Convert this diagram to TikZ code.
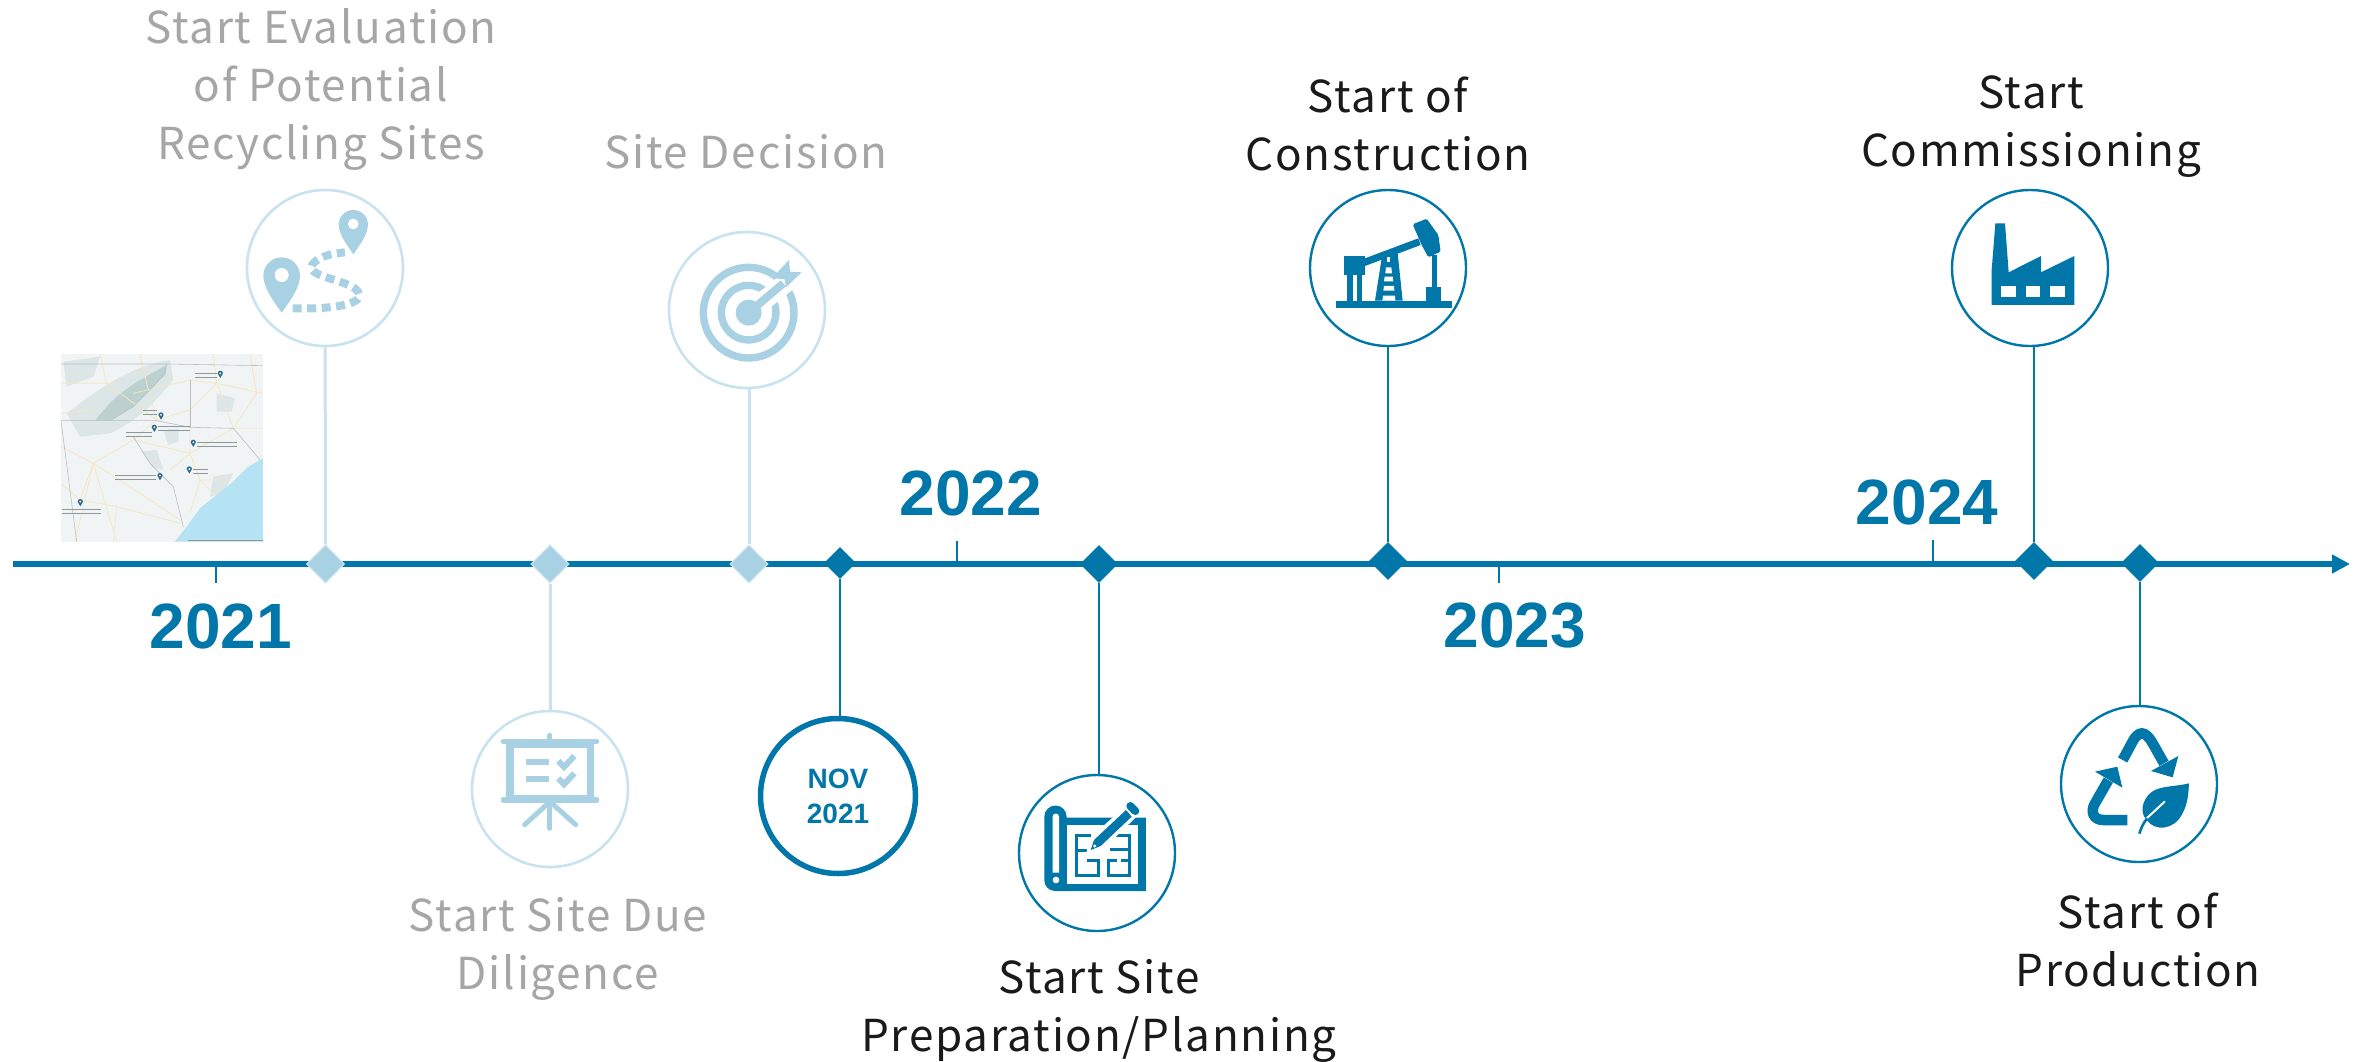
\documentclass[tikz,border=0pt]{standalone}
\usepackage{fontspec}
\usetikzlibrary{shapes.geometric,arrows.meta}
\newfontfamily\labfont[LetterSpace=4]{Noto Sans CJK JP}
\newfontfamily\yearfont[Scale=1]{Liberation Sans}
\definecolor{dk}{HTML}{0077A8}
\definecolor{lt}{HTML}{A9D1E4}
\definecolor{ltc}{HTML}{C9E2EF}
\definecolor{gy}{HTML}{A6A6A6}
\definecolor{bk}{HTML}{1A1A1A}
\definecolor{road}{HTML}{F3E7C4}
\definecolor{land}{HTML}{F1F4F5}
\definecolor{sea}{HTML}{B5E3F4}
\definecolor{mtn}{HTML}{AFC8C6}
\definecolor{mtnl}{HTML}{DCE6E6}
\definecolor{mbord}{HTML}{B9BFC2}
\definecolor{mtxt}{HTML}{8E979C}
\definecolor{mpin}{HTML}{2F6C8C}
\tikzset{
  ring/.style={circle,draw=dk,line width=2.4pt,minimum size=156pt,inner sep=0pt},
  ringl/.style={circle,draw=ltc,line width=2.6pt,minimum size=156pt,inner sep=0pt},
  dmd/.style={diamond,fill=dk,inner sep=0pt,minimum width=#1,minimum height=#1},
  dmdl/.style={diamond,fill=lt,draw=ltc,line width=1.2pt,inner sep=0pt,minimum width=#1,minimum height=#1},
  con/.style={draw=dk,line width=2.2pt},
  conl/.style={draw=ltc,line width=3pt},
  lab/.style={align=center,text=bk,font=\labfont\fontsize{44}{58}\selectfont},
  labg/.style={lab,text=gy},
  yr/.style={text=dk,font=\yearfont\bfseries\fontsize{64}{64}\selectfont},
  z/.style 2 args={shift={(#1,#2)},x=.3333pt,y=-.3333pt},
  maproad/.style={draw=road,line width=.8pt},
  mapline/.style={draw=mtxt,line width=.8pt},
  mapborder/.style={draw=mbord,line width=.6pt}
}
\begin{document}
\begin{tikzpicture}[x=1pt,y=-1pt]
\useasboundingbox (0,0) rectangle (2364,1061);
% axis
\coordinate (axS) at (13,564);
\coordinate (axE) at (2350,564);
\draw[dk,line width=5.5pt,-{Triangle[length=18pt,width=18pt]}] (axS) -- (axE);
% ticks
\foreach \n/\x/\a/\b in {ta/216/564/583,tb/957/541/564,tc/1499/564/583,td/1933/540/564}{
  \coordinate (\n1) at (\x,\a); \coordinate (\n2) at (\x,\b);
  \draw[con] (\n1) -- (\n2);
}
% diamonds
\node[dmdl=38pt] (d1) at (325.5,564) {};
\node[dmdl=38pt] (d2) at (550,564) {};
\node[dmdl=38pt] (d3) at (749,564) {};
\node[dmd=32pt] (d4) at (840,563) {};
\node[dmd=38pt] (d5) at (1099,564) {};
\node[dmd=38pt] (d6) at (1388,561) {};
\node[dmd=38pt] (d7) at (2034,561) {};
\node[dmd=38pt] (d8) at (2140,563) {};
% circles
\node[ringl] (c1) at (325,268) {};
\node[ringl] (c2) at (550,789) {};
\node[ringl] (c3) at (747,310) {};
\node[circle,draw=dk,line width=5.5pt,minimum size=155pt,inner sep=0pt,align=center,text=dk,font=\yearfont\bfseries\fontsize{28}{35}\selectfont] (c4) at (838,796) {NOV\\2021};
\node[ring] (c5) at (1097,853) {};
\node[ring] (c6) at (1388,268) {};
\node[ring] (c7) at (2030,268) {};
\node[ring] (c8) at (2139,784) {};
% connectors
\draw[conl] (c1) -- (d1);
\draw[conl] (d2) -- (c2);
\draw[conl] (d3.north) -- (d3.north |- c3.south);
\draw[con] (d4.south) -- (d4.south |- c4.north);
\draw[con] (d5.south) -- (d5.south |- c5.north);
\draw[con] (c6) -- (d6);
\draw[con] (d7.north) -- (d7.north |- c7.south);
\draw[con] (d8.south) -- (d8.south |- c8.north);
% map
\begin{scope}[z={0}{180}]
  \clip (183,522) rectangle (789,1085);
  \fill[land] (183,522) rectangle (789,1085);
  % terrain
  \fill[mtnl] (200,700) .. controls (280,640) and (380,560) .. (510,540) -- (520,600) .. controls (470,660) and (420,720) .. (330,760) -- (240,770) -- cycle;
  \fill[mtn,opacity=.7] (285,722) .. controls (320,680) and (340,650) .. (420,600) -- (500,555) -- (495,582) -- (440,640) -- (400,680) -- (330,722) -- cycle;
  \fill[mtnl] (190,545) -- (300,530) -- (280,590) -- (200,620) -- cycle;
  \fill[mtnl] (490,750) -- (535,745) -- (535,785) -- (505,795) -- cycle;
  \fill[mtnl] (425,815) -- (470,810) -- (490,870) -- (455,860) -- cycle;
  \fill[mtnl] (650,640) -- (705,655) -- (695,695) -- (650,695) -- cycle;
  \fill[mtnl] (640,890) -- (700,880) -- (670,940) -- (630,950) -- cycle;
  % roads
  \draw[maproad]
    (280,850) -- (183,800) (280,850) -- (240,960) (280,850) -- (400,780) (280,850) -- (225,1085)
    (280,850) -- (420,940) (280,850) -- (350,1085) (400,780) -- (470,720) (470,720) -- (570,690)
    (570,690) -- (650,610) (650,610) -- (789,640) (570,600) -- (650,610) (570,600) -- (400,640)
    (570,690) -- (570,820) (570,820) -- (400,780) (570,820) -- (600,900) (600,900) -- (570,1000)
    (570,820) -- (700,745) (700,745) -- (770,640) (420,940) -- (540,1020) (350,980) -- (540,1030)
    (183,610) -- (350,610) (300,522) -- (320,610) (600,900) -- (690,900) (183,700) -- (280,690)
    (320,610) -- (470,720) (650,610) -- (640,522) (700,745) -- (789,745) (470,720) -- (440,610)
    (570,820) -- (510,870) (350,980) -- (340,1085) (600,900) -- (660,960) (183,910) -- (240,960)
    (240,960) -- (350,980) (700,745) -- (650,610) (420,522) -- (440,610) (750,522) -- (770,640);
  % borders and rivers
  \draw[mapborder] (183,552) -- (500,552) -- (789,557);
  \draw[mapborder] (500,552) -- (495,582) -- (440,640) -- (400,680) -- (330,722) -- (183,722);
  \draw[mapborder] (330,722) -- (470,722) -- (570,742) -- (700,745) -- (789,850);
  \draw[mapborder] (570,600) -- (570,742);
  \draw[mapborder] (183,722) -- (230,1085);
  \draw[mapborder] (400,770) -- (450,850) -- (520,920) -- (550,1040);
  % sea
  \fill[sea] (789,835) -- (745,860) -- (700,905) -- (650,945) -- (600,985) -- (560,1040) -- (525,1085) -- (789,1085) -- cycle;
  % scale bar
  \draw[mapline,line width=.5pt] (565,1082) -- (789,1082);
  % place marks
  \foreach \a/\b/\c/\d in {585/650/580/592,430/470/691/703,475/570/738/750,378/455/757/769,592/710/786/798,578/625/867/879,345/468/885/897,185/302/989/1000}{
    \draw[mapline] (\a,\c) -- (\b,\c);
    \draw[mapline] (\a,\d) -- (\b,\d);
  }
  \foreach \x/\y in {661/583,483/708,463/745,580/790,568/870,480/890,241/968}{
    \fill[mpin] (\x-8,\y-3) arc[start angle=180,end angle=360,radius=8] -- (\x,\y+11) -- cycle;
    \fill[white] (\x,\y-3) circle (3);
  }
\end{scope}
% route icon
\begin{scope}[z={230}{190}]
  \fill[lt] (100,257) arc[start angle=180,end angle=360,radius=55] .. controls (210,295) and (175,340) .. (155,368) .. controls (135,340) and (100,295) .. (100,257) -- cycle;
  \fill[white] (155,255) circle (21);
  \fill[lt] (326,104) arc[start angle=180,end angle=360,radius=44] .. controls (414,135) and (385,170) .. (370,193) .. controls (355,170) and (326,135) .. (326,104) -- cycle;
  \fill[white] (370,102) circle (16);
  \draw[lt,line width=8pt,dash pattern=on 9pt off 5.5pt] (188,355) .. controls (270,358) and (390,350) .. (388,315) .. controls (385,285) and (320,275) .. (270,255) .. controls (235,240) and (235,225) .. (270,205) .. controls (295,192) and (320,190) .. (345,187);
\end{scope}
% target icon
\begin{scope}[z={640}{190}]
  \draw[lt,line width=7.4pt] (326,368) circle (136);
  \draw[lt,line width=7.4pt] (326,368) circle (82);
  \draw[white,line width=19pt] (326,368) -- (480,245);
  \fill[lt] (326,368) circle (39);
  \draw[lt,line width=8pt] (326,368) -- (430,280);
  \fill[lt] (405,255) -- (447,210) -- (450,245) -- (485,247) -- (438,292) -- (434,268) -- (405,265) -- cycle;
\end{scope}
% presentation icon
\begin{scope}[z={460}{700}]
  \draw[lt,line width=5.4pt,line cap=round] (130,124) -- (410,124);
  \draw[lt,line width=5.4pt,line cap=round] (130,300) -- (410,300);
  \draw[lt,line width=5pt,line cap=round] (270,106) -- (270,120);
  \fill[lt] (138,120) rectangle (403,143);
  \fill[lt] (138,284) rectangle (403,300);
  \fill[lt] (138,120) rectangle (162,300);
  \fill[lt] (380,120) rectangle (403,300);
  \fill[lt] (198,176) rectangle (267,195);
  \fill[lt] (198,228) rectangle (267,246);
  \draw[lt,line width=6pt] (295,183) -- (312,201) -- (343,168);
  \draw[lt,line width=6pt] (295,235) -- (312,253) -- (343,220);
  \draw[lt,line width=5pt,line cap=round] (270,305) -- (194,374);
  \draw[lt,line width=5pt,line cap=round] (270,305) -- (347,374);
  \draw[lt,line width=5pt,line cap=round] (270,305) -- (270,385);
\end{scope}
% blueprint icon
\begin{scope}[z={1000}{760}]
  \fill[dk] (133,170) arc[start angle=180,end angle=360,radius=33.5] -- (200,173) -- (438,173) -- (438,393) -- (165,393) arc[start angle=90,end angle=180,radius=32] -- cycle;
  \fill[white] (200,195) rectangle (415,372);
  \fill[white] (158,170) arc[start angle=180,end angle=360,radius=9.5] -- (177,338) -- (158,338) -- cycle;
  \fill[white] (168,360) circle (10);
  \draw[dk,line width=3pt] (272,226) -- (228,226) -- (228,345) -- (296,345) -- (296,300) -- (262,300);
  \draw[dk,line width=3pt] (232,270) -- (262,270);
  \draw[dk,line width=3pt] (330,226) -- (388,226) -- (388,345) -- (324,345) -- (324,300) -- (350,300);
  \draw[dk,line width=3pt] (330,268) -- (388,268);
  \draw[dk,line width=3pt] (362,300) -- (388,300);
  \fill[white] (258,285) -- (268,235) -- (375,140) -- (425,155) -- (315,262) -- cycle;
  \fill[dk] (272,270) -- (282,240) -- (378,150) -- (395,170) -- (302,258) -- cycle;
  \fill[white] (284,258) circle (5);
  \draw[dk,line width=8pt,line cap=round] (391,138) -- (406,153);
\end{scope}
% pump icon
\begin{scope}[z={1290}{180}]
  \fill[dk] (138,362) rectangle (485,384);
  \fill[dk] (163,227) rectangle (225,285);
  \fill[dk] (172,285) rectangle (188,362);
  \fill[dk] (202,285) rectangle (217,362);
  \fill[dk] (225,235) -- (385,175) -- (392,195) -- (225,258) -- cycle;
  \fill[dk] (275,235) -- (323,220) -- (338,362) -- (255,362) -- cycle;
  \fill[white] (292,231) rectangle (300,245);
  \fill[white] (288,262) -- (304,262) -- (306,280) -- (286,280) -- cycle;
  \fill[white] (284,290) -- (308,290) -- (310,304) -- (282,304) -- cycle;
  \fill[white] (282,318) -- (312,318) -- (313,332) -- (280,332) -- cycle;
  \fill[white] (279,347) -- (315,347) -- (316,362) -- (277,362) -- cycle;
  \fill[dk,rounded corners=1.5pt] (368,133) -- (410,116) -- (445,165) -- (452,215) -- (415,232) -- (395,195) -- cycle;
  \fill[dk] (425,225) rectangle (440,322);
  \fill[dk] (407,322) rectangle (453,362);
\end{scope}
% factory icon
\begin{scope}[z={1930}{180}]
  \fill[dk] (185,375) -- (185,270) -- (196,130) -- (225,130) -- (236,277) -- (333,228) -- (333,277) -- (433,228) -- (433,375) -- cycle;
  \fill[white] (214,317) rectangle (258,350);
  \fill[white] (287,317) rectangle (331,350);
  \fill[white] (360,317) rectangle (404,350);
\end{scope}
% recycle icon
\begin{scope}[z={2040}{700}]
  \draw[dk,line width=10.5pt,line join=round] (248,180) -- (275,130) .. controls (295,90) and (315,90) .. (338,130) -- (372,190);
  \fill[dk] (333,213) -- (398,232) -- (415,168) -- cycle;
  \draw[dk,line width=10.5pt] (262,360) -- (190,360) .. controls (160,360) and (150,335) .. (165,310) -- (205,240);
  \fill[dk] (165,215) -- (232,200) -- (247,263) -- cycle;
  \fill[dk] (447,250) .. controls (400,262) and (350,255) .. (325,285) .. controls (300,315) and (305,345) .. (320,360) .. controls (345,395) and (400,390) .. (425,345) .. controls (445,310) and (445,280) .. (447,250) -- cycle;
  \draw[white,line width=2pt] (375,304) -- (318,357);
  \draw[dk,line width=2.6pt] (322,355) .. controls (310,368) and (303,385) .. (298,401);
\end{scope}
% labels
\node[labg] (t1) at (321,89) {Start Evaluation\\of Potential\\Recycling Sites};
\node[labg] (t2) at (558,949) {Start Site Due\\Diligence};
\node[labg] (t3) at (746,152) {Site Decision};
\node[lab] (t5) at (1099,1011) {Start Site\\Preparation/Planning};
\node[lab] (t6) at (1388,124) {Start of\\Construction};
\node[lab] (t7) at (2031,127) {Start\\Commissioning};
\node[lab] (t8) at (2138,940) {Start of\\Production};
\node[yr] (y1) at (221,626) {2021};
\node[yr] (y2) at (971,493) {2022};
\node[yr] (y3) at (1515,626) {2023};
\node[yr] (y4) at (1927,502) {2024};
\end{tikzpicture}
\end{document}
